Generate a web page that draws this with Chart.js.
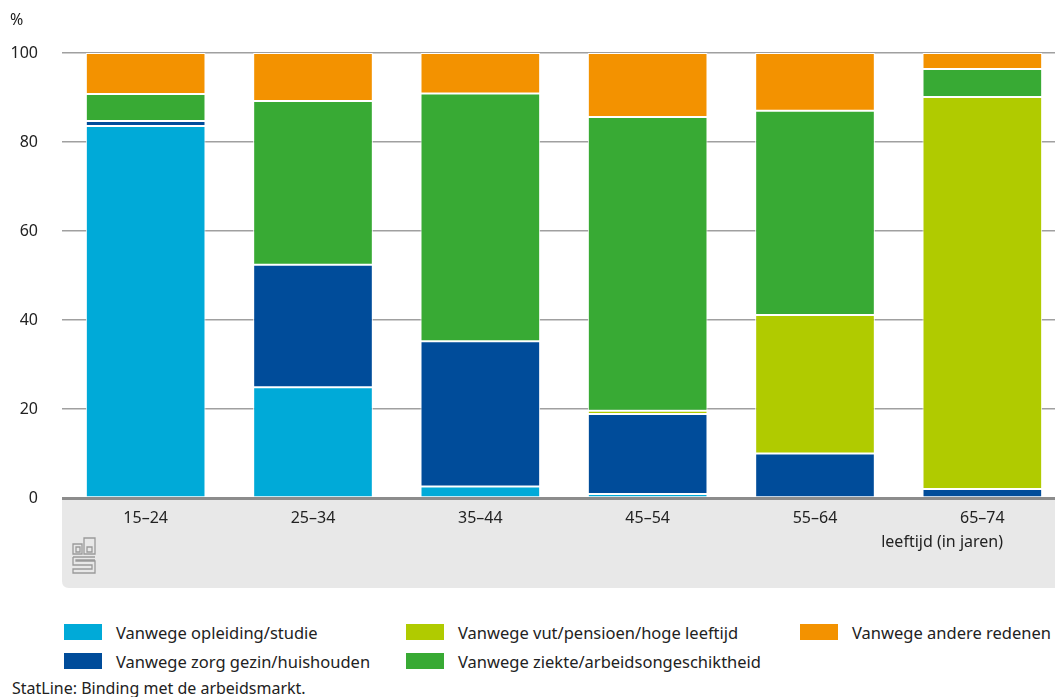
<!DOCTYPE html>
<html>
<head>
<meta charset="utf-8">
<script src="https://cdn.jsdelivr.net/npm/chart.js@4"></script>
<style>
  html, body { margin: 0; padding: 0; background: #fff; overflow: hidden; width: 1055px; height: 697px; }
  body { position: relative; font-family: "Noto Sans", sans-serif; color: #222; }
  #wrap { position: absolute; left: 0; top: 0; width: 1066px; height: 600px; }
  #legend { position: absolute; left: 64px; top: 620px; width: 990px; height: 50px; }
  .item { position: absolute; display: flex; align-items: center; font-size: 16.5px; height: 24px; }
  .sw { width: 38px; height: 16px; margin-right: 14px; }
  #src { position: absolute; left: 12px; top: 677px; font-size: 16px; }
</style>
</head>
<body>
<div id="wrap"><canvas id="chart" width="1066" height="600"></canvas></div>
<div id="legend"></div>
<div id="src">StatLine: Binding met de arbeidsmarkt.</div>
<script>
const categories = ['15-24', '25-34', '35-44', '45-54', '55-64', '65-74'];
const seriesNames = [
    'Vanwege opleiding/studie',
    'Vanwege zorg gezin/huishouden',
    'Vanwege vut/pensioen/hoge leeftijd',
    'Vanwege ziekte/arbeidsongeschiktheid',
    'Vanwege andere redenen'
];
const opleiding = [83.6, 24.9, 2.6, 0.9, 0, 0];
const zorg = [1.1, 27.5, 32.6, 18.0, 10.0, 2.0];
const vut = [0, 0, 0, 0.7, 31.1, 88.1];
const ziekte = [6.1, 36.8, 55.7, 66.0, 45.9, 6.3];
const andere = [9.2, 10.8, 9.1, 14.4, 13.0, 3.6];
const yTicks = [0, 20, 40, 60, 80, 100];
const colors = ['#00aad8', '#004c9a', '#b0cb00', '#38aa34', '#f39200'];

const seriesValues = [opleiding, zorg, vut, ziekte, andere];
const font = '"Noto Sans", sans-serif';

const backdrop = {
    id: 'backdrop',
    beforeDraw(chart) {
        const { ctx, chartArea } = chart;
        const x0 = chartArea.left, y0 = chartArea.bottom + 1, x1 = 1055, y1 = 588, r = 7;
        ctx.save();
        ctx.fillStyle = '#e8e8e8';
        ctx.beginPath();
        ctx.moveTo(x0, y0);
        ctx.lineTo(x1, y0);
        ctx.lineTo(x1, y1);
        ctx.lineTo(x0 + r, y1);
        ctx.quadraticCurveTo(x0, y1, x0, y1 - r);
        ctx.closePath();
        ctx.fill();
        ctx.restore();
    },
    afterDraw(chart) {
        const { ctx, chartArea } = chart;
        ctx.save();
        ctx.strokeStyle = '#8c8c8c';
        ctx.lineWidth = 3;
        ctx.beginPath();
        ctx.moveTo(chartArea.left, chartArea.bottom + 0.5);
        ctx.lineTo(1055, chartArea.bottom + 0.5);
        ctx.stroke();

        ctx.fillStyle = '#222';
        ctx.font = '16px ' + font;
        ctx.textAlign = 'left';
        ctx.textBaseline = 'middle';
        ctx.fillText('%', 10, 20);
        ctx.textAlign = 'right';
        ctx.fillText('leeftijd (in jaren)', 1003, 542);

        // cbs logo
        ctx.strokeStyle = '#9a9a9a';
        ctx.lineWidth = 1.3;
        ctx.beginPath();
        ctx.rect(73, 544, 9, 10);
        ctx.rect(76, 547, 4, 5);
        ctx.rect(84, 538, 11, 16);
        ctx.rect(87, 547, 5, 5);
        ctx.moveTo(73, 557); ctx.lineTo(95, 557);
        ctx.moveTo(73, 557); ctx.lineTo(73, 565); ctx.lineTo(92, 565); ctx.lineTo(92, 569); ctx.lineTo(73, 569); ctx.lineTo(73, 573); ctx.lineTo(95, 573); ctx.lineTo(95, 561); ctx.lineTo(76, 561); ctx.lineTo(76, 560); ctx.lineTo(95, 560);
        ctx.stroke();
        ctx.restore();
    }
};

new Chart(document.getElementById('chart'), {
    type: 'bar',
    data: {
        labels: categories.map(c => c.replace('-', '–')),
        datasets: seriesNames.map((name, i) => ({
            label: name,
            data: seriesValues[i],
            backgroundColor: colors[i],
            borderColor: '#ffffff',
            borderWidth: 1,
            borderSkipped: false,
            barPercentage: 0.715,
            categoryPercentage: 1
        }))
    },
    options: {
        responsive: false,
        animation: false,
        layout: { padding: { top: 53, right: 0, left: 0, bottom: 0 } },
        plugins: { legend: { display: false }, tooltip: { enabled: false } },
        scales: {
            x: {
                stacked: true,
                grid: { display: false },
                border: { display: false },
                ticks: { color: '#222', font: { family: font, size: 16 }, padding: 3 },
                afterFit(scale) { scale.height = 102; }
            },
            y: {
                stacked: true,
                min: 0,
                max: 100,
                afterBuildTicks(scale) { scale.ticks = yTicks.map(v => ({ value: v })); },
                grid: {
                    color: ctx => ctx.tick && ctx.tick.value === 0 ? 'rgba(0,0,0,0)' : '#a0a0a0',
                    lineWidth: 1.5,
                    drawTicks: false
                },
                border: { display: false },
                ticks: { color: '#222', font: { family: font, size: 16 }, padding: 24 },
                afterFit(scale) { scale.width = 62; }
            }
        }
    },
    plugins: [backdrop]
});

const legend = document.getElementById('legend');
const cols = [0, 342, 736];
seriesNames.forEach((name, i) => {
    const el = document.createElement('div');
    el.className = 'item';
    el.style.left = cols[Math.floor(i / 2)] + 'px';
    el.style.top = (i % 2) * 29 + 'px';
    el.innerHTML = '<div class="sw" style="background:' + colors[i] + '"></div><span>' + name + '</span>';
    legend.appendChild(el);
});
</script>
</body>
</html>
